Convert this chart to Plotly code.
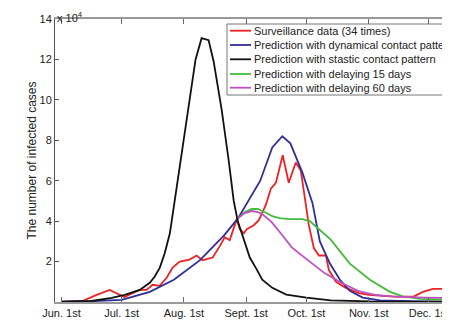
import plotly.graph_objects as go

# x values: days since June 1st; y values in units of 10^4 cases
tick_days = [0, 30, 61, 92, 122, 153, 183]
tick_labels = ["Jun. 1st", "Jul. 1st", "Aug. 1st", "Sept. 1st", "Oct. 1st", "Nov. 1st", "Dec. 1st"]
y_ticks = [2, 4, 6, 8, 10, 12, 14]

surv_days = [0, 10.5, 17.5, 24, 31.4, 35.4, 38.9, 42.4, 45.4, 48.9, 52.4, 55.4, 58.9, 63.8, 67.3,
             70.3, 75.3, 78.8, 81.3, 83.8, 87.3, 88.8, 90.8, 92.3, 95.8, 98.3, 101.8, 104.3, 106.8,
             110.2, 113.2, 116.7, 119.2, 120.7, 123.2, 125.7, 128.2, 131.7, 133.2, 136.7, 141.6,
             148.1, 153.1, 160.1, 167.6, 175.6, 180.0, 185.0, 190.0, 192.0, 193.5]
surv_vals = [0.0, 0.05, 0.35, 0.6, 0.25, 0.44, 0.6, 0.6, 0.85, 0.8, 1.2, 1.7, 2.0, 2.1, 2.3,
             2.07, 2.2, 2.75, 3.2, 3.06, 4.1, 3.6, 3.4, 3.6, 3.8, 4.05, 4.8, 5.6, 5.9,
             7.26, 5.9, 6.9, 6.5, 5.5, 3.8, 2.67, 2.3, 2.3, 1.58, 1.0, 0.7,
             0.44, 0.35, 0.3, 0.25, 0.28, 0.5, 0.65, 0.65, 0.5, 0.6]

dyn_days = [0, 15, 30, 44, 56, 69, 81, 88, 99, 105, 110, 114, 120, 125, 128.7, 133.7, 138.7,
            143.6, 150, 158.6, 178.6, 193.5]
dyn_vals = [0.02, 0.04, 0.1, 0.5, 1.1, 2.07, 3.3, 4.15, 6.0, 7.65, 8.2, 7.85, 6.4, 4.9, 3.0,
            1.9, 1.1, 0.55, 0.22, 0.08, 0.03, 0.02]

static_days = [0, 15, 25, 31.5, 39, 44, 46.4, 49, 51.4, 54, 56.4, 59.4, 62.8, 66.8, 69.8, 73.3,
               75.8, 79.8, 83.3, 85.8, 87.8, 90.3, 93.8, 97.3, 100, 105, 112, 122, 134, 154, 193.5]
static_vals = [0.02, 0.05, 0.2, 0.35, 0.6, 0.95, 1.25, 1.7, 2.4, 3.4, 5.0, 7.0, 9.4, 12.0, 13.05,
               12.95, 11.9, 9.5, 7.0, 5.0, 4.0, 3.2, 2.2, 1.6, 1.1, 0.7, 0.37, 0.22, 0.08, 0.03, 0.02]

d15_days = [88, 91.3, 94.8, 97.8, 101, 105, 108.7, 113.7, 120, 123.7, 127.7, 134, 143.6, 153.6,
            163.6, 170, 178.6, 188.5, 193.5]
d15_vals = [4.15, 4.45, 4.6, 4.6, 4.45, 4.25, 4.15, 4.1, 4.1, 4.0, 3.65, 3.1, 1.9, 1.1,
            0.5, 0.28, 0.15, 0.1, 0.1]

d60_days = [88, 91.3, 94.8, 97.8, 100, 104.7, 110, 114.7, 122.7, 131, 139.7, 147.6, 156, 164.6,
            181, 193.5]
d60_vals = [4.15, 4.4, 4.5, 4.45, 4.35, 3.95, 3.3, 2.7, 2.07, 1.43, 0.94, 0.55, 0.35, 0.28,
            0.22, 0.2]

series_names = ["Surveillance data (34 times)",
                "Prediction with dynamical contact pattern",
                "Prediction with stastic contact pattern",
                "Prediction with delaying 15 days",
                "Prediction with delaying 60 days"]
series_x = [surv_days, dyn_days, static_days, d15_days, d60_days]
series_y = [surv_vals, dyn_vals, static_vals, d15_vals, d60_vals]
series_colors = ["#ee2222", "#2e2e9a", "#111111", "#44bb3a", "#c050c0"]

font = "Liberation Sans, Arial, sans-serif"

fig = go.Figure()
for name, xs, ys, col in zip(series_names, series_x, series_y, series_colors):
    fig.add_trace(go.Scatter(x=xs, y=ys, mode="lines", name=name, showlegend=False,
                             line=dict(color=col, width=1.8)))

# Compact MATLAB-style legend box (drawn in paper coordinates)
W, H = 442, 313
ML, MT, MB = 47, 11, 19
pw, ph = W - ML, H - MT - MB


def px(X):
    return (X - ML) / pw


def py(Y):
    return (H - MB - Y) / ph


shapes = [dict(type="rect", xref="paper", yref="paper", layer="above",
               x0=px(219), x1=1.05, y0=py(87), y1=py(16),
               line=dict(color="#777", width=1), fillcolor="white")]
annotations = []
entry_y = [22.7, 37, 51.3, 66, 79.7]
for name, col, ey in zip(series_names, series_colors, entry_y):
    shapes.append(dict(type="line", xref="paper", yref="paper", layer="above",
                       x0=px(222), x1=px(243), y0=py(ey), y1=py(ey),
                       line=dict(color=col, width=1.8)))
    annotations.append(dict(x=px(243.5), y=py(ey), xref="paper", yref="paper",
                            xanchor="left", yanchor="middle", text=name, showarrow=False,
                            font=dict(size=11, family=font, color="#222")))

annotations.append(dict(x=px(47), y=py(0), xref="paper", yref="paper", xanchor="left",
                        yanchor="top", text="x 10<sup>4</sup>", showarrow=False,
                        font=dict(size=11, family=font, color="#222")))

fig.update_layout(
    width=W, height=H,
    margin=dict(l=ML, r=0, t=MT, b=MB, pad=0),
    paper_bgcolor="white", plot_bgcolor="white",
    font=dict(family=font, size=11, color="#222"),
    showlegend=False,
    xaxis=dict(range=[-3.2, 193.5], tickvals=tick_days, ticktext=tick_labels,
               ticks="inside", ticklen=5, tickcolor="#666", showgrid=False, zeroline=False,
               showline=True, linecolor="#999", linewidth=2, mirror="ticks",
               tickfont=dict(size=11), automargin=False),
    yaxis=dict(range=[0, 14], tickvals=y_ticks, ticktext=[str(v) for v in y_ticks],
               ticks="inside", ticklen=4, tickcolor="#555", showgrid=False, zeroline=False,
               showline=True, linecolor="#555", linewidth=1,
               tickfont=dict(size=11), automargin=False,
               title=dict(text="The number of infected cases", font=dict(size=12), standoff=0)),
    shapes=shapes,
    annotations=annotations,
)

fig.write_html("out.html")
